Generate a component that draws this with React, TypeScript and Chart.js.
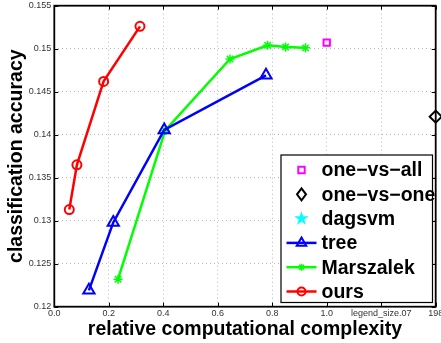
import React, { useEffect, useRef } from "react";
import { Chart, registerables } from "chart.js";

Chart.register(...registerables);

const xTickLabels = ["0.0", "0.2", "0.4", "0.6", "0.8", "1.0", "legend_size.07", "198"];
const yTickLabels = ["0.12", "0.125", "0.13", "0.135", "0.14", "0.145", "0.15", "0.155"];

const oneVsAllX = [1.0];
const oneVsAllY = [0.1507];
const oneVsOneX = [1.4];
const oneVsOneY = [0.1421];
const dagsvmX: number[] = [];
const dagsvmY: number[] = [];
const treeX = [0.127, 0.2165, 0.4035, 0.777];
const treeY = [0.1219, 0.1298, 0.14055, 0.1469];
const marszalekX = [0.234, 0.407, 0.645, 0.783, 0.849, 0.922];
const marszalekY = [0.1232, 0.1405, 0.1488, 0.1504, 0.1502, 0.1501];
const oursX = [0.055, 0.083, 0.181, 0.3145];
const oursY = [0.1313, 0.1365, 0.1462, 0.1526];

const seriesLabels = ["one\u2212vs\u2212all", "one\u2212vs\u2212one", "dagsvm", "tree", "Marszalek", "ours"];

const FONT = "'Liberation Sans', Arial, Helvetica, sans-serif";

const zip = (xs: number[], ys: number[]) => xs.map((x, i) => ({ x, y: ys[i] }));

function drawPentagram(ctx: CanvasRenderingContext2D, cx: number, cy: number, r: number) {
  const inner = r * 0.382;
  ctx.beginPath();
  for (let i = 0; i < 10; i++) {
    const rr = i % 2 === 0 ? r : inner;
    const a = -Math.PI / 2 + (i * Math.PI) / 5;
    const px = cx + rr * Math.cos(a);
    const py = cy + rr * Math.sin(a);
    if (i === 0) ctx.moveTo(px, py);
    else ctx.lineTo(px, py);
  }
  ctx.closePath();
  ctx.fill();
}

function drawMarker(ctx: CanvasRenderingContext2D, style: string, x: number, y: number, color: string) {
  ctx.save();
  ctx.strokeStyle = color;
  ctx.fillStyle = color;
  ctx.lineWidth = 2;
  ctx.beginPath();
  if (style === "rect") {
    ctx.rect(x - 3.2, y - 3.2, 6.4, 6.4);
    ctx.stroke();
  } else if (style === "rectRot") {
    ctx.moveTo(x, y - 6);
    ctx.lineTo(x + 4.5, y);
    ctx.lineTo(x, y + 6);
    ctx.lineTo(x - 4.5, y);
    ctx.closePath();
    ctx.stroke();
  } else if (style === "pentagram") {
    drawPentagram(ctx, x, y, 7.5);
  } else if (style === "triangle") {
    const r = 5.5;
    ctx.moveTo(x, y - r);
    ctx.lineTo(x + r * 0.866, y + r * 0.5);
    ctx.lineTo(x - r * 0.866, y + r * 0.5);
    ctx.closePath();
    ctx.stroke();
  } else if (style === "star") {
    const r = 3.5;
    ctx.lineWidth = 1.5;
    ctx.moveTo(x - r, y);
    ctx.lineTo(x + r, y);
    ctx.moveTo(x, y - r);
    ctx.lineTo(x, y + r);
    const d = r * 0.707;
    ctx.moveTo(x - d, y - d);
    ctx.lineTo(x + d, y + d);
    ctx.moveTo(x - d, y + d);
    ctx.lineTo(x + d, y - d);
    ctx.stroke();
  } else if (style === "circle") {
    ctx.arc(x, y, 4, 0, Math.PI * 2);
    ctx.stroke();
  }
  ctx.restore();
}

const legendItems = [
  { style: "rect", color: "#ff00ff", line: false },
  { style: "rectRot", color: "#000000", line: false },
  { style: "pentagram", color: "#00ffff", line: false },
  { style: "triangle", color: "#0000ff", line: true },
  { style: "star", color: "#00ff00", line: true },
  { style: "circle", color: "#ff0000", line: true },
];

const zeroPad = () => ({ left: 0, top: 0, right: 0, bottom: 0 });

const decorPlugin = {
  id: "matlabDecor",
  afterDatasetsDraw(chart: any) {
    const { ctx, chartArea } = chart;
    const { left, right, top, bottom } = chartArea;
    ctx.save();
    ctx.strokeStyle = "#000";
    ctx.lineWidth = 1;
    const xs = chart.scales.x;
    const ys = chart.scales.y;
    ctx.beginPath();
    xs.ticks.forEach((t: any) => {
      const px = Math.round(xs.getPixelForValue(t.value)) + 0.5;
      ctx.moveTo(px, bottom);
      ctx.lineTo(px, bottom - 4);
      ctx.moveTo(px, top);
      ctx.lineTo(px, top + 4);
    });
    ys.ticks.forEach((t: any) => {
      const py = Math.round(ys.getPixelForValue(t.value)) + 0.5;
      ctx.moveTo(left, py);
      ctx.lineTo(left + 4, py);
      ctx.moveTo(right, py);
      ctx.lineTo(right - 4, py);
    });
    ctx.stroke();
    ctx.lineWidth = 1.8;
    ctx.strokeRect(left, top, right - left, bottom - top);
    ctx.restore();
  },
  afterDraw(chart: any) {
    const { ctx } = chart;
    ctx.save();
    const bx = 281, by = 155, bw = 151.5, bh = 147.5;
    ctx.fillStyle = "#fff";
    ctx.fillRect(bx, by, bw, bh);
    ctx.strokeStyle = "#000";
    ctx.lineWidth = 1.2;
    ctx.strokeRect(bx, by, bw, bh);
    ctx.font = `bold 19.5px ${FONT}`;
    ctx.textBaseline = "middle";
    ctx.textAlign = "left";
    legendItems.forEach((it, i) => {
      const cy = 170 + i * 24.3;
      if (it.line) {
        ctx.strokeStyle = it.color;
        ctx.lineWidth = 2.5;
        ctx.beginPath();
        ctx.moveTo(286.5, cy);
        ctx.lineTo(316.5, cy);
        ctx.stroke();
      }
      drawMarker(ctx, it.style, 301.5, cy, it.color);
      ctx.fillStyle = "#000";
      ctx.fillText(seriesLabels[i], 321.5, cy + 1);
    });
    ctx.restore();
  },
};

export default function App() {
  const ref = useRef<HTMLCanvasElement>(null);
  useEffect(() => {
    document.body.style.margin = "0";
    const canvas = ref.current;
    if (!canvas) return;
    const chart = new Chart(canvas, {
      type: "scatter",
      data: {
        datasets: [
          {
            label: seriesLabels[0],
            data: zip(oneVsAllX, oneVsAllY),
            showLine: false,
            pointStyle: "rect",
            pointRadius: 4.5,
            borderColor: "#ff00ff",
            backgroundColor: "rgba(0,0,0,0)",
            pointBorderWidth: 2,
          },
          {
            label: seriesLabels[1],
            data: zip(oneVsOneX, oneVsOneY),
            showLine: false,
            pointStyle: "rectRot",
            pointRadius: 6,
            borderColor: "#000000",
            backgroundColor: "rgba(0,0,0,0)",
            pointBorderWidth: 2,
          },
          {
            label: seriesLabels[2],
            data: zip(dagsvmX, dagsvmY),
            showLine: false,
            pointStyle: "star",
            pointRadius: 6,
            borderColor: "#00ffff",
            backgroundColor: "#00ffff",
          },
          {
            label: seriesLabels[3],
            data: zip(treeX, treeY),
            showLine: true,
            borderWidth: 2.5,
            pointStyle: "triangle",
            pointRadius: 6.5,
            pointBorderWidth: 2,
            borderColor: "#0000ff",
            backgroundColor: "rgba(0,0,0,0)",
          },
          {
            label: seriesLabels[4],
            data: zip(marszalekX, marszalekY),
            showLine: true,
            borderWidth: 2.5,
            pointStyle: "star",
            pointRadius: 4.5,
            pointBorderWidth: 1.5,
            borderColor: "#00ff00",
            backgroundColor: "rgba(0,0,0,0)",
          },
          {
            label: seriesLabels[5],
            data: zip(oursX, oursY),
            showLine: true,
            borderWidth: 2.5,
            pointStyle: "circle",
            pointRadius: 4.5,
            pointBorderWidth: 2,
            borderColor: "#ff0000",
            backgroundColor: "rgba(0,0,0,0)",
          },
        ],
      },
      options: {
        responsive: false,
        animation: false,
        devicePixelRatio: 1,
        clip: false as any,
        layout: { autoPadding: false, padding: { top: 5.7, right: 5.3, left: 0, bottom: 0 } },
        plugins: {
          legend: { display: false },
          tooltip: { enabled: false },
        },
        elements: { line: { tension: 0 } },
        scales: {
          x: {
            type: "linear",
            min: 0,
            max: 1.4,
            ticks: {
              stepSize: 0.2,
              autoSkip: false,
              maxRotation: 0,
              padding: 1,
              color: "#333",
              font: { family: FONT, size: 9 },
              callback: (_v: any, i: number) => xTickLabels[i],
            },
            grid: { color: "#b8b8b8", lineWidth: 1, drawTicks: false },
            border: { display: false, dash: [1, 3] },
            title: {
              display: true,
              text: "relative computational complexity",
              color: "#000",
              font: { family: FONT, size: 19.5, weight: "bold" },
              padding: { top: 0, bottom: 2 },
            },
            afterFit: (s: any) => {
              s.height = 36.3;
              s.paddingLeft = 0;
              s.paddingRight = 0;
              s.paddingTop = 0;
              s.paddingBottom = 0;
              s.getPadding = zeroPad;
            },
          },
          y: {
            type: "linear",
            min: 0.12,
            max: 0.155,
            ticks: {
              stepSize: 0.005,
              autoSkip: false,
              padding: 3,
              color: "#333",
              font: { family: FONT, size: 9 },
              callback: (_v: any, i: number) => yTickLabels[i],
            },
            grid: { color: "#b8b8b8", lineWidth: 1, drawTicks: false },
            border: { display: false, dash: [1, 3] },
            title: {
              display: true,
              text: "classification accuracy",
              color: "#000",
              font: { family: FONT, size: 19.5, weight: "bold" },
              padding: { top: 5, bottom: 0 },
            },
            afterFit: (s: any) => {
              s.width = 54.3;
              s.paddingLeft = 0;
              s.paddingRight = 0;
              s.paddingTop = 0;
              s.paddingBottom = 0;
              s.getPadding = zeroPad;
            },
          },
        },
      },
      plugins: [decorPlugin],
    } as any);
    return () => chart.destroy();
  }, []);
  return (
    <div style={{ width: 441, height: 343 }}>
      <canvas ref={ref} width={441} height={343} style={{ display: "block" }} />
    </div>
  );
}
